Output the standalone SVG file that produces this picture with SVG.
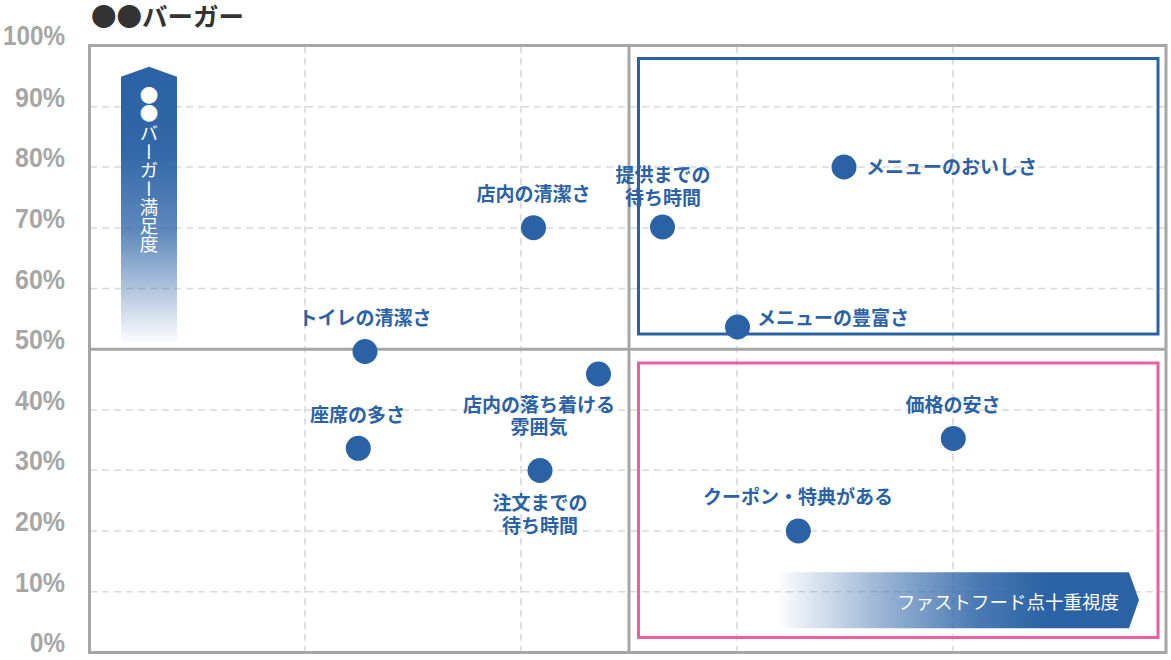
<svg xmlns="http://www.w3.org/2000/svg" width="1171" height="660" viewBox="0 0 1171 660">
<defs>
<linearGradient id="gv" x1="0" y1="66" x2="0" y2="342" gradientUnits="userSpaceOnUse">
<stop offset="0" stop-color="#2a62a5" stop-opacity="1"/>
<stop offset="0.3" stop-color="#2a62a5" stop-opacity="0.97"/>
<stop offset="0.6" stop-color="#2a62a5" stop-opacity="0.75"/>
<stop offset="1" stop-color="#2a62a5" stop-opacity="0.02"/>
</linearGradient>
<linearGradient id="gh" x1="780" y1="0" x2="1139" y2="0" gradientUnits="userSpaceOnUse">
<stop offset="0" stop-color="#2a62a5" stop-opacity="0.02"/>
<stop offset="0.3" stop-color="#2a62a5" stop-opacity="0.5"/>
<stop offset="0.55" stop-color="#2a62a5" stop-opacity="0.85"/>
<stop offset="0.75" stop-color="#2a62a5" stop-opacity="1"/>
<stop offset="1" stop-color="#2a62a5" stop-opacity="1"/>
</linearGradient>
</defs>
<style>
.grid{stroke:#d9d9d9;stroke-width:1.6;stroke-dasharray:7 5;fill:none}
.frame{stroke:#a6a6a6;stroke-width:3;fill:none}
.ax{font-family:"Liberation Sans",Arial,sans-serif;font-weight:bold;font-size:27px;fill:#a6a6a6;text-anchor:end}
.dot{fill:#2a62a5}
.lbl{font-family:"Noto Sans CJK JP","Noto Sans CJK SC",sans-serif;font-weight:bold;font-size:19px;fill:#2a62a5;text-anchor:middle}
.lbls{text-anchor:start}
.wt{font-family:"Noto Sans CJK JP","Noto Sans CJK SC",sans-serif;font-size:18.5px;fill:#ffffff}
</style>
<rect x="0" y="0" width="1171" height="660" fill="#ffffff"/>

<g id="title">
<text x="91" y="26" font-family="'Noto Sans CJK JP','Noto Sans CJK SC',sans-serif" font-weight="bold" font-size="25.5" fill="#333333">●●バーガー</text>
</g>

<g id="y-axis-labels">
<text class="ax" x="65" y="45" textLength="62" lengthAdjust="spacingAndGlyphs">100%</text>
<text class="ax" x="65" y="106.7" textLength="50" lengthAdjust="spacingAndGlyphs">90%</text>
<text class="ax" x="65" y="167" textLength="50" lengthAdjust="spacingAndGlyphs">80%</text>
<text class="ax" x="65" y="228" textLength="50" lengthAdjust="spacingAndGlyphs">70%</text>
<text class="ax" x="65" y="288.5" textLength="50" lengthAdjust="spacingAndGlyphs">60%</text>
<text class="ax" x="65" y="349" textLength="50" lengthAdjust="spacingAndGlyphs">50%</text>
<text class="ax" x="65" y="410" textLength="50" lengthAdjust="spacingAndGlyphs">40%</text>
<text class="ax" x="65" y="470.3" textLength="50" lengthAdjust="spacingAndGlyphs">30%</text>
<text class="ax" x="65" y="531" textLength="50" lengthAdjust="spacingAndGlyphs">20%</text>
<text class="ax" x="65" y="591.7" textLength="50" lengthAdjust="spacingAndGlyphs">10%</text>
<text class="ax" x="65" y="652" textLength="35" lengthAdjust="spacingAndGlyphs">0%</text>
</g>

<g id="grid">
<line class="grid" x1="90" y1="106.7" x2="1165" y2="106.7"/>
<line class="grid" x1="90" y1="167" x2="1165" y2="167"/>
<line class="grid" x1="90" y1="228" x2="1165" y2="228"/>
<line class="grid" x1="90" y1="288.5" x2="1165" y2="288.5"/>
<line class="grid" x1="90" y1="410" x2="1165" y2="410"/>
<line class="grid" x1="90" y1="470.3" x2="1165" y2="470.3"/>
<line class="grid" x1="90" y1="531" x2="1165" y2="531"/>
<line class="grid" x1="90" y1="591.7" x2="1165" y2="591.7"/>
<line class="grid" x1="305" y1="46" x2="305" y2="652"/>
<line class="grid" x1="521" y1="46" x2="521" y2="652"/>
<line class="grid" x1="737" y1="46" x2="737" y2="652"/>
<line class="grid" x1="953" y1="46" x2="953" y2="652"/>
</g>

<g id="frame">
<rect class="frame" x="89.5" y="45.5" width="1076.5" height="607"/>
<line class="frame" x1="89.5" y1="349.3" x2="1166" y2="349.3"/>
<line class="frame" x1="629" y1="45.5" x2="629" y2="652.5"/>
</g>

<g id="quadrant-boxes">
<rect x="638.5" y="58.5" width="519.5" height="275.5" fill="none" stroke="#2a62a5" stroke-width="3"/>
<rect x="638.5" y="363" width="519.5" height="274.5" fill="none" stroke="#e9609e" stroke-width="3"/>
</g>

<g id="axis-arrow-vertical">
<polygon points="121,76.7 149,66.7 177,76.7 177,342 121,342" fill="url(#gv)"/>
<text class="wt" x="149" y="101.5" text-anchor="middle" font-size="21.5">●</text>
<text class="wt" x="149" y="119.8" text-anchor="middle" font-size="21.5">●</text>
<text class="wt" x="149" y="124" font-size="19" style="writing-mode:vertical-rl;text-orientation:upright">バーガー満足度</text>
</g>

<g id="axis-arrow-horizontal">
<polygon points="780,572.3 1129,572.3 1139,600 1129,628.3 780,628.3" fill="url(#gh)"/>
<text class="wt" x="1119" y="608.5" text-anchor="end">ファストフード点十重視度</text>
</g>

<g id="node-menu-taste">
<circle class="dot" cx="844" cy="167" r="12.5"/>
<text class="lbl lbls" x="866" y="173.5">メニューのおいしさ</text>
</g>
<g id="node-serve-wait">
<circle class="dot" cx="662.5" cy="227" r="12.5"/>
<text class="lbl" x="663" y="182">提供までの</text>
<text class="lbl" x="663" y="204.5">待ち時間</text>
</g>
<g id="node-store-clean">
<circle class="dot" cx="533.5" cy="227.7" r="12.5"/>
<text class="lbl" x="533.5" y="201">店内の清潔さ</text>
</g>
<g id="node-menu-variety">
<circle class="dot" cx="737.5" cy="327" r="12.5"/>
<text class="lbl lbls" x="757" y="325">メニューの豊富さ</text>
</g>
<g id="node-toilet-clean">
<circle class="dot" cx="365" cy="351.5" r="12.5"/>
<text class="lbl" x="365" y="325">トイレの清潔さ</text>
</g>
<g id="node-atmosphere">
<circle class="dot" cx="598.5" cy="374" r="12.5"/>
<text class="lbl" x="539" y="412">店内の落ち着ける</text>
<text class="lbl" x="539" y="434">雰囲気</text>
</g>
<g id="node-seats">
<circle class="dot" cx="358.3" cy="448.3" r="12.5"/>
<text class="lbl" x="357.5" y="422">座席の多さ</text>
</g>
<g id="node-order-wait">
<circle class="dot" cx="540" cy="470.5" r="12.5"/>
<text class="lbl" x="540" y="510">注文までの</text>
<text class="lbl" x="540" y="532.5">待ち時間</text>
</g>
<g id="node-price">
<circle class="dot" cx="953.3" cy="438.5" r="12.5"/>
<text class="lbl" x="953" y="412">価格の安さ</text>
</g>
<g id="node-coupon">
<circle class="dot" cx="798.3" cy="531" r="12.5"/>
<text class="lbl" x="798" y="503.5">クーポン・特典がある</text>
</g>
</svg>
